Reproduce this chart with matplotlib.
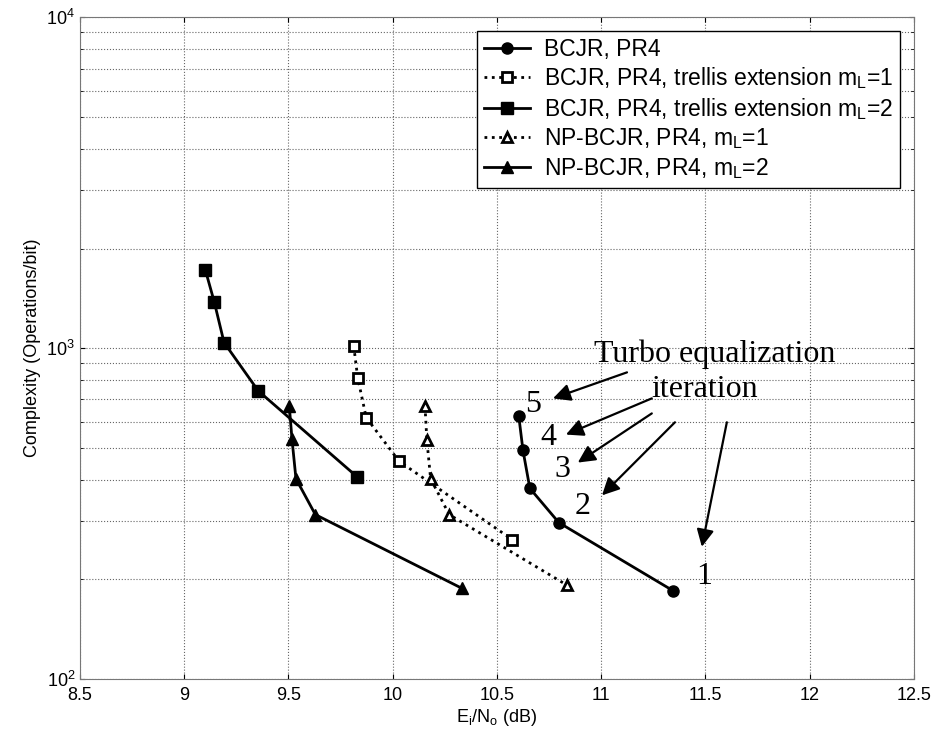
import matplotlib
matplotlib.use("Agg")
import matplotlib.pyplot as plt

plt.rcParams['font.family'] = ['Liberation Sans', 'DejaVu Sans']
plt.rcParams['mathtext.default'] = 'regular'

################################################################################################
# Data.

# BCJR, PR4
bcjr_x = [10.605, 10.625, 10.658, 10.797, 11.344]
bcjr_y = [622, 491, 377, 297, 185]

# BCJR, PR4, trellis extension m_L=1
ext1_x = [9.813, 9.832, 9.873, 10.031, 10.573]
ext1_y = [1016, 815, 617, 455, 264]

# BCJR, PR4, trellis extension m_L=2
ext2_x = [9.101, 9.144, 9.191, 9.355, 9.830]
ext2_y = [1726, 1380, 1040, 743, 408]

# NP-BCJR, PR4, m_L=1
np1_x = [10.155, 10.164, 10.182, 10.271, 10.837]
np1_y = [668, 527, 403, 314, 192]

# NP-BCJR, PR4, m_L=2
np2_x = [9.504, 9.517, 9.536, 9.629, 10.332]
np2_y = [668, 530, 403, 314, 188]

X_TICKS = [8.5, 9, 9.5, 10, 10.5, 11, 11.5, 12, 12.5]

# iteration labels: (text, x, y)
ITER_LABELS = [("5", 10.673, 676), ("4", 10.749, 537), ("3", 10.812, 430),
               ("2", 10.912, 332), ("1", 11.493, 204)]

# arrows: (x_from, y_from, x_to, y_to)
ARROWS = [(11.124, 845, 10.769, 705),
          (11.243, 705, 10.831, 548),
          (11.243, 635, 10.888, 451),
          (11.354, 597, 11.004, 359),
          (11.603, 597, 11.483, 251)]

################################################################################################

fig = plt.figure(figsize=(9.39, 7.46), dpi=100)
ax = fig.add_axes([0.0852, 0.0898, 0.888, 0.887])

ax.plot(bcjr_x, bcjr_y, '-', color='black', lw=2, marker='o', ms=8,
        label='BCJR, PR4')
ax.plot(ext1_x, ext1_y, ':', color='black', lw=2, marker='s', ms=7, mfc='white', mew=2,
        label='BCJR, PR4, trellis extension m$_L$=1')
ax.plot(ext2_x, ext2_y, '-', color='black', lw=2, marker='s', ms=8,
        label='BCJR, PR4, trellis extension m$_L$=2')
ax.plot(np1_x, np1_y, ':', color='black', lw=2, marker='^', ms=7, mfc='white', mew=2,
        label='NP-BCJR, PR4, m$_L$=1')
ax.plot(np2_x, np2_y, '-', color='black', lw=2, marker='^', ms=9,
        label='NP-BCJR, PR4, m$_L$=2')

ax.set_yscale('log')
ax.set_xlim(8.5, 12.5)
ax.set_ylim(100, 10000)
ax.set_xticks(X_TICKS)
ax.set_xticklabels([f"{t:g}" for t in X_TICKS])

ax.grid(True, which='both', linestyle=':', color='#666666', lw=0.8)
ax.tick_params(which='both', direction='in', top=True, right=True, labelsize=13)
ax.tick_params(axis='x', pad=6)
for spine in ax.spines.values():
	spine.set_color('#777777')

ax.set_xlabel('E$_i$/N$_o$ (dB)', fontsize=13, labelpad=2)
ax.set_ylabel('Complexity (Operations/bit)', fontsize=13)

leg = ax.legend(loc='upper right', fontsize=16.5, fancybox=False, framealpha=1,
                edgecolor='black', handlelength=2.0, borderaxespad=0.6,
                labelspacing=0.2, handletextpad=0.6, borderpad=0.3)
leg.get_frame().set_linewidth(1)

serif = ['Liberation Serif', 'DejaVu Serif']
ax.text(11.546, 959, 'Turbo equalization', fontsize=23, family=serif,
        ha='center', va='center')
ax.text(11.498, 751, 'iteration', fontsize=23, family=serif,
        ha='center', va='center')
for label, x, y in ITER_LABELS:
	ax.text(x, y, label, fontsize=23, family=serif, ha='center', va='center')

for x0, y0, x1, y1 in ARROWS:
	ax.annotate('', xy=(x1, y1), xytext=(x0, y0),
	            arrowprops=dict(arrowstyle='-|>', color='black', lw=1.6,
	                            mutation_scale=26, shrinkA=0, shrinkB=0))

fig.savefig('out.png', dpi=100)
